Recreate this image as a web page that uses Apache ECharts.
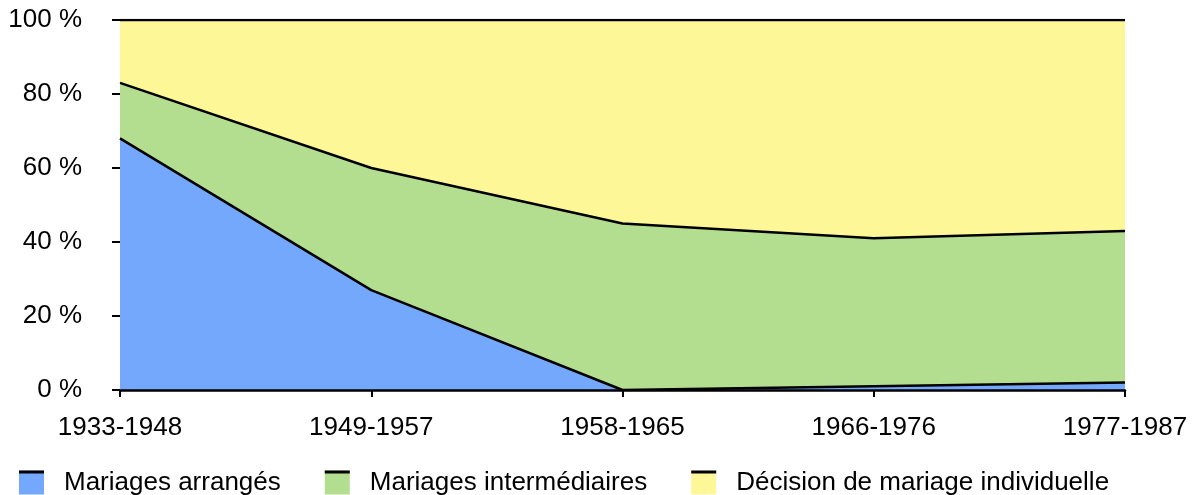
<!DOCTYPE html>
<html>
<head>
<meta charset="utf-8">
<script src="https://cdn.jsdelivr.net/npm/echarts@6/dist/echarts.min.js"></script>
<style>
  html, body { margin: 0; padding: 0; background: #fff; }
  #main { width: 1199px; height: 495px; }
</style>
</head>
<body>
<div id="main"></div>
<script>
// periodes
var periods = ['1933-1948', '1949-1957', '1958-1965', '1966-1976', '1977-1987'];
// parts en % (empilées)
var arranges = [68, 27, 0, 1, 2];
var intermediaires = [15, 33, 45, 40, 41];
var individuelle = [17, 40, 55, 59, 57];
var seriesNames = ['Mariages arrangés', 'Mariages intermédiaires', 'Décision de mariage individuelle'];
var seriesColors = ['#74a8fd', '#b3de8f', '#fef798'];
var yTicks = [0, 20, 40, 60, 80, 100];

var font = '"Liberation Sans", Arial, Helvetica, sans-serif';
var fontSize = 26;
var allData = [arranges, intermediaires, individuelle];

var seriesInfo = [];
for (var i = 0; i < seriesNames.length; i++) {
    seriesInfo.push({
        name: seriesNames[i],
        type: 'line',
        stack: 'total',
        z: 5 - i,             // lignes du dessous restent visibles
        symbol: 'none',
        itemStyle: { color: seriesColors[i], borderWidth: 0 },
        lineStyle: { color: '#000', width: 2.5 },
        areaStyle: { color: seriesColors[i], opacity: 1 },
        data: allData[i]
    });
}

var legendBase = {
    left: 19,
    top: 469,
    padding: 0,
    orient: 'horizontal',
    itemWidth: 25,
    itemHeight: 24,
    itemGap: 44,
    selectedMode: false,
    data: seriesNames
};

var legendFill = Object.assign({}, legendBase, {
    icon: 'rect',
    itemStyle: { borderWidth: 0 },
    textStyle: { fontFamily: font, fontSize: fontSize, color: '#000', padding: [3, 0, 0, 15], lineHeight: 24 }
});
// petite barre noire en haut de chaque icone
var legendBar = Object.assign({}, legendBase, {
    icon: 'path://M0,0H25V3H0Z M0,23.99H0.01V24H0Z',
    itemStyle: { color: '#000', borderWidth: 0 },
    textStyle: { fontFamily: font, fontSize: fontSize, color: 'rgba(0,0,0,0)', padding: [3, 0, 0, 15], lineHeight: 24 }
});

var option = {
    animation: false,
    backgroundColor: '#fff',
    grid: { left: 120, right: 74, top: 20, bottom: 105 },
    legend: [legendFill, legendBar],
    xAxis: {
        type: 'category',
        boundaryGap: false,
        data: periods,
        z: 10,
        axisLine: { lineStyle: { color: '#000', width: 2.5 } },
        axisTick: { show: true, length: 7, lineStyle: { color: '#000', width: 2 } },
        axisLabel: { fontFamily: font, fontSize: fontSize, color: '#000', margin: 25 }
    },
    yAxis: {
        type: 'value',
        min: yTicks[0],
        max: yTicks[yTicks.length - 1],
        interval: 20,
        axisLine: { show: false },
        axisTick: { show: true, length: 8, lineStyle: { color: '#000', width: 2 } },
        splitLine: { show: false },
        axisLabel: { fontFamily: font, fontSize: fontSize, color: '#000', margin: 38, formatter: '{value} %' }
    },
    series: seriesInfo
};

var myChart = echarts.init(document.getElementById('main'));
myChart.setOption(option);
</script>
</body>
</html>
